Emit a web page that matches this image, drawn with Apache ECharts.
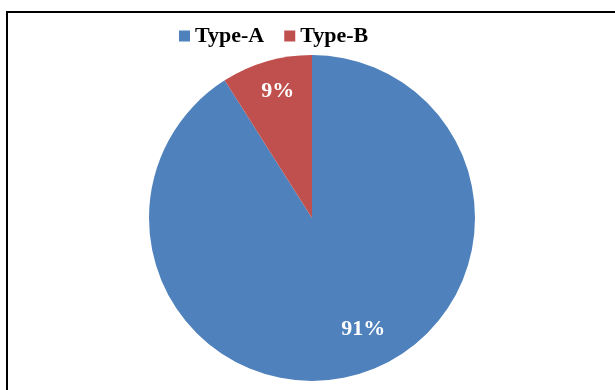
<!DOCTYPE html>
<html>
<head>
<meta charset="utf-8">
<script src="https://cdn.jsdelivr.net/npm/echarts@6/dist/echarts.min.js"></script>
<style>
  html, body { margin: 0; padding: 0; background: #fff; }
  #chart { width: 615px; height: 390px; }
</style>
</head>
<body>
<div id="chart"></div>
<script>
// chart data
var types = ['Type-A', 'Type-B'];
var shares = [91, 9];
var colors = ['#4F81BD', '#C0504D'];

var chart = echarts.init(document.getElementById('chart'));

var font = '"Liberation Serif", "Times New Roman", serif';
// small nudges so the labels sit where the original put them
var labelNudge = [[15, -13], [2, -2]];

chart.setOption({
  animation: false,
  graphic: [{
    type: 'rect',
    shape: { x: 7, y: 12, width: 640, height: 420 },
    style: { fill: 'none', stroke: '#000', lineWidth: 2 }
  }],
  legend: {
    data: types,
    left: 174,
    top: 20,
    itemWidth: 11,
    itemHeight: 11,
    itemGap: 20,
    icon: 'rect',
    textStyle: { fontFamily: font, fontWeight: 'bold', fontSize: 22, color: '#000' }
  },
  series: [
    {
      type: 'pie',
      center: [312, 218],
      radius: [0, 163],
      startAngle: 90,
      clockwise: true,
      label: { show: false },
      labelLine: { show: false },
      data: types.map(function (t, i) {
        return { name: t, value: shares[i], itemStyle: { color: colors[i] } };
      })
    },
    {
      // invisible ring used only to place the percentage labels
      type: 'pie',
      silent: true,
      center: [312, 218],
      radius: [90, 163],
      startAngle: 90,
      clockwise: true,
      itemStyle: { color: 'transparent' },
      label: {
        show: true,
        position: 'inside',
        formatter: '{d}%',
        color: '#fff',
        fontFamily: font,
        fontWeight: 'bold',
        fontSize: 22
      },
      labelLine: { show: false },
      data: types.map(function (t, i) {
        return { name: t, value: shares[i], label: { offset: labelNudge[i] } };
      })
    }
  ]
});
</script>
</body>
</html>
